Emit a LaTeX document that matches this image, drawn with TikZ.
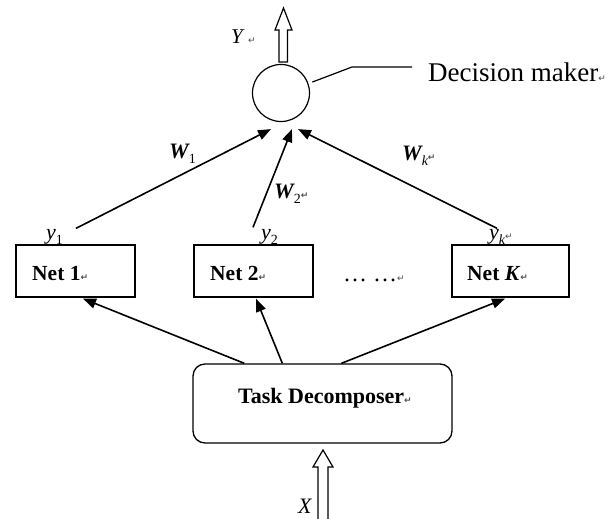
\documentclass[tikz,border=0pt]{standalone}
\usepackage{fontspec}
\setmainfont{Liberation Serif}
\newfontfamily\symfont{DejaVu Sans}
\usetikzlibrary{arrows.meta,calc}
\newcommand\retmark{{\symfont\fontsize{9}{9}\selectfont\color{black!70}↵}}
\newcommand\fsz[1]{\fontsize{#1}{#1}\selectfont}
\newcommand\lowsub[1]{\raisebox{-0.25em}{\fsz{14}#1}}
\begin{document}
\begin{tikzpicture}[x=1pt,y=-1pt,
  netbox/.style={draw, line width=1.3pt, rectangle, minimum width=119pt, minimum height=52pt, inner sep=0pt},
  txt/.style={inner sep=0pt, anchor=base west},
  arr/.style={line width=1.6pt, -{Triangle[length=13pt,width=10pt]}},
  hollow/.style={draw, line width=1.2pt, fill=white, line join=miter},
  thin/.style={line width=1.2pt}]
\useasboundingbox (0,0) rectangle (611,519);

% decision maker
\node[draw, circle, line width=1.2pt, minimum size=57pt, inner sep=0pt] (dm) at (281,93) {};
\draw[thin] ($(dm.20)+(4,-1)$) -- (352,67) coordinate (knee) -- (412,67) coordinate (lend);
\node[txt] (dmtxt) at (428,82) {\fsz{27}Decision maker\retmark};

% output arrow Y
\draw[hollow] (279,62) -- (279,30) -- (275,30) -- (283.5,8) -- (292,30) -- (287.5,30) -- (287.5,62) -- cycle;
\node[txt] (ylab) at (231,44) {\fsz{21}\itshape Y\ \retmark};

% nets
\node[netbox] (net1) at (75.5,271) {};
\node[netbox] (net2) at (253.5,271) {};
\node[netbox, minimum width=117pt] (netk) at (510.5,271) {};
\node[txt] (n1t) at (32,280) {\fsz{21.5}\bfseries Net 1\retmark};
\node[txt] (n2t) at (210,280) {\fsz{21.5}\bfseries Net 2\retmark};
\node[txt] (nkt) at (467,280) {\fsz{21.5}\bfseries Net \textit{K}\retmark};
\node[txt] (dots) at (343,281) {\fsz{24}… …\retmark};

% outputs y
\node[txt] (y1) at (46,239) {\fsz{22}\itshape y\lowsub{\upshape 1}};
\node[txt] (y2) at (261,239) {\fsz{22}\itshape y\lowsub{\upshape 2}};
\node[txt] (yk) at (489,239) {\fsz{22}\itshape y\lowsub{k}\retmark};

% weights
\node[txt] (w1) at (169,158) {\fsz{22}\bfseries\itshape W\lowsub{\mdseries\upshape 1}};
\node[txt] (w2) at (274,198) {\fsz{22}\bfseries\itshape W\lowsub{\mdseries\upshape 2}\retmark};
\node[txt] (wk) at (402,160) {\fsz{22}\bfseries\itshape W\lowsub{\mdseries k}\retmark};

% arrows to decision maker
\draw[arr] ($(net1.north)+(0.5,-16)$) -- ($(dm.south)+(-10,7)$);
\draw[arr] ($(net2.north)+(-0.5,-17)$) -- ($(dm.south)+(11,7)$);
\draw[arr] ($(netk.north)+(-13.5,-16)$) -- ($(dm.south)+(17,7)$);

% task decomposer
\node[draw, line width=1.3pt, rounded corners=12pt, minimum width=259pt, minimum height=79pt, inner sep=0pt] (task) at (322.5,403.5) {};
\node[txt] (tt) at (238,403) {\fsz{22}\bfseries Task Decomposer\retmark};

\draw[arr] ($(task.north west)+(52,0)$) -- ($(net1.south)+(7.5,1)$);
\draw[arr] ($(task.north west)+(90,0)$) -- ($(net2.south)+(2.5,1)$);
\draw[arr] ($(task.north west)+(149,0)$) -- ($(netk.south)+(-5.5,1)$);

% input arrow X
\draw[hollow] (318,520) -- (318,467) -- (313,467) -- (323,450) -- (333,467) -- (328,467) -- (328,520);
\node[txt] (xlab) at (298,513) {\fsz{22}\itshape X};
\end{tikzpicture}
\end{document}
